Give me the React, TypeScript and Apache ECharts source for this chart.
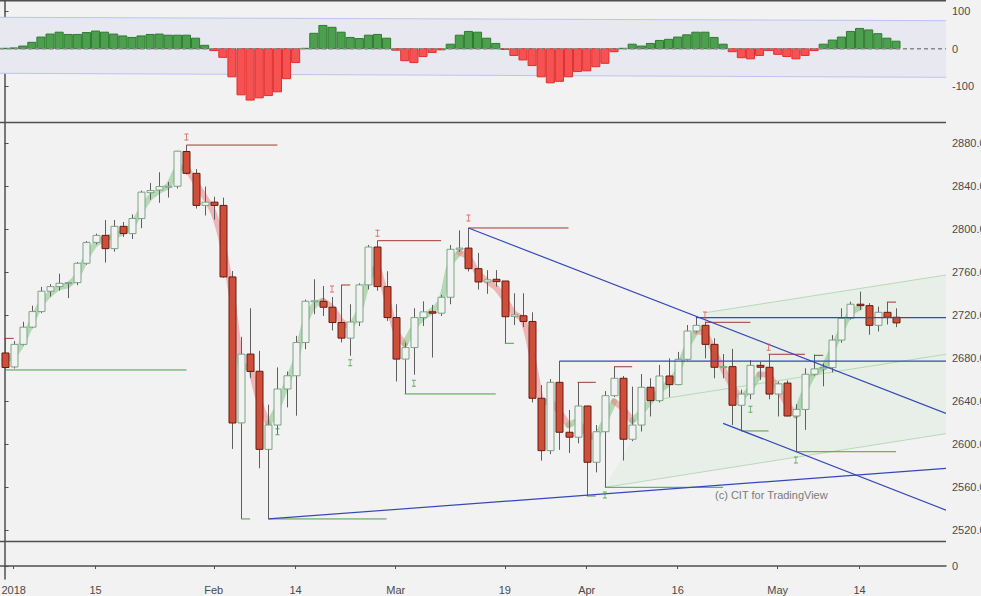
import React, { useEffect, useRef } from "react";
import * as echarts from "echarts";

// ---------- data ----------
const dates = [
  "2017-12-29",
  "2018-01-02","2018-01-03","2018-01-04","2018-01-05","2018-01-08","2018-01-09","2018-01-10","2018-01-11","2018-01-12","2018-01-15","2018-01-16","2018-01-17","2018-01-18","2018-01-19","2018-01-22","2018-01-23","2018-01-24","2018-01-25","2018-01-26","2018-01-29","2018-01-30","2018-01-31",
  "2018-02-01","2018-02-02","2018-02-05","2018-02-06","2018-02-07","2018-02-08","2018-02-09","2018-02-12","2018-02-13","2018-02-14","2018-02-15","2018-02-16","2018-02-19","2018-02-20","2018-02-21","2018-02-22","2018-02-23","2018-02-26","2018-02-27","2018-02-28",
  "2018-03-01","2018-03-02","2018-03-05","2018-03-06","2018-03-07","2018-03-08","2018-03-09","2018-03-12","2018-03-13","2018-03-14","2018-03-15","2018-03-16","2018-03-19","2018-03-20","2018-03-21","2018-03-22","2018-03-23","2018-03-26","2018-03-27","2018-03-28","2018-03-29",
  "2018-04-02","2018-04-03","2018-04-04","2018-04-05","2018-04-06","2018-04-09","2018-04-10","2018-04-11","2018-04-12","2018-04-13","2018-04-16","2018-04-17","2018-04-18","2018-04-19","2018-04-20","2018-04-23","2018-04-24","2018-04-25","2018-04-26","2018-04-27","2018-04-30",
  "2018-05-01","2018-05-02","2018-05-03","2018-05-04","2018-05-07","2018-05-08","2018-05-09","2018-05-10","2018-05-11","2018-05-14","2018-05-15","2018-05-16","2018-05-17","2018-05-18",
];

const opens = [
  2685, 2672, 2693, 2709, 2723.5, 2742.4, 2746.7, 2749.8, 2750.4, 2768.4,
  2787.8, 2794.3, 2782, 2802.7, 2796, 2810, 2834, 2836.5, 2839.7, 2840,
  2872.3, 2852, 2822.2, 2825.2, 2822.2, 2755.7, 2620, 2684, 2668, 2595.4,
  2618, 2651.5, 2663.8, 2694.7, 2733, 2733, 2727.5, 2713.3, 2698.8, 2713.8,
  2748.3, 2783.5, 2746.7, 2717.9, 2679.3, 2690, 2717.9, 2723.3, 2722, 2736.8,
  2781.4, 2782.5, 2763.4, 2751, 2753.5, 2751.9, 2719, 2719.6, 2714.3, 2642.9,
  2594.2, 2657.7, 2611.3, 2606.7, 2635.7, 2583.4, 2611.8, 2645.3, 2661.5, 2604.8,
  2618, 2653.1, 2640.7, 2663.6, 2655.6, 2679.1, 2705.4, 2710.7, 2693, 2671.7,
  2672.3, 2636.4, 2646.8, 2673.5, 2671.7, 2646.8, 2657, 2626.4, 2632.5, 2665.2,
  2670.2, 2671.4, 2697, 2717.2, 2730.3, 2729, 2710.7, 2722.8, 2718.2,
];
const highs = [
  2698.6, 2696, 2714, 2729, 2746.5, 2749, 2758.7, 2751, 2769.6, 2789,
  2796, 2808.6, 2808.6, 2806.8, 2813.8, 2836, 2843, 2853, 2844, 2873,
  2878.3, 2856, 2839.7, 2830.3, 2829.4, 2761.2, 2700, 2726.6, 2687, 2636.9,
  2671.6, 2667.8, 2700.9, 2734.6, 2753.5, 2747.3, 2737, 2748.2, 2730.3, 2749.8,
  2785.4, 2789.4, 2761, 2730.3, 2694.5, 2726.6, 2733, 2729.7, 2739, 2785.4,
  2799, 2801.2, 2778, 2762, 2762, 2751.9, 2740.5, 2740.5, 2722.8, 2655.1,
  2660.7, 2677.5, 2632, 2657.7, 2636, 2618, 2649.6, 2672.2, 2663.6, 2653.7,
  2665.4, 2661.5, 2673.9, 2680, 2686, 2711, 2717.9, 2714, 2698.7, 2684,
  2688.8, 2650.9, 2678.4, 2677, 2683.8, 2658.5, 2659.5, 2637.4, 2670.7, 2683.5,
  2675.3, 2701.6, 2726.5, 2732.7, 2742, 2731.3, 2728, 2732.3, 2726.5,
];
const lows = [
  2669.2, 2670.5, 2692, 2708, 2722, 2737.4, 2743, 2736, 2748, 2767,
  2786, 2769, 2779.2, 2792.9, 2791, 2801, 2827.5, 2824.6, 2829.5, 2838,
  2851, 2819.3, 2812.8, 2809, 2755, 2595.8, 2530.7, 2661.7, 2577.8, 2530.7,
  2609.7, 2634.4, 2626.7, 2688.5, 2721, 2719.4, 2706, 2694.8, 2682.4, 2710,
  2744, 2742.8, 2714.8, 2658.5, 2646.9, 2664.8, 2710, 2680.8, 2719.4, 2730.3,
  2779, 2760.8, 2744, 2740, 2746.7, 2694, 2711, 2709, 2639, 2584.9,
  2591, 2595, 2592, 2601, 2552, 2574, 2560.1, 2644, 2585, 2603,
  2612, 2626, 2639, 2644, 2655, 2678, 2704, 2680, 2661.5, 2661.5,
  2618, 2612.5, 2642, 2660, 2642, 2626, 2626, 2593.2, 2613.5, 2664,
  2654, 2667, 2694.5, 2716, 2725, 2702, 2705, 2711.5, 2709,
];
const closes = [
  2671.5, 2693, 2709, 2723.5, 2742.4, 2746.7, 2749.8, 2750.4, 2768.4, 2787.8,
  2794.3, 2782, 2802.7, 2796, 2810, 2834.5, 2836, 2839.7, 2840, 2872.6,
  2852, 2822.2, 2825.2, 2822.2, 2755.7, 2619.9, 2683.9, 2667.8, 2595.4, 2618,
  2651.5, 2663.8, 2694.7, 2733.1, 2733.5, 2727.5, 2713.3, 2698.8, 2713.8, 2748.3,
  2783.5, 2746.7, 2717.9, 2679.3, 2690, 2717.9, 2723.2, 2722, 2736.8, 2781.4,
  2782.5, 2763.4, 2751, 2753, 2751.3, 2718.7, 2720.5, 2714.3, 2642.9, 2594.2,
  2657.7, 2611.3, 2606.7, 2635.7, 2583.4, 2611.8, 2645.3, 2661.5, 2604.8, 2618,
  2653.1, 2640.7, 2663.6, 2655.6, 2679.1, 2705.4, 2710.7, 2693, 2671.7, 2672.3,
  2636.4, 2646.8, 2673.5, 2671.7, 2646.8, 2656.3, 2626.4, 2632.5, 2665.2, 2670.2,
  2671.4, 2697, 2717.2, 2730.3, 2729, 2710.7, 2722.8, 2718.2, 2712.97,
];

// smoothed trend line (translucent, coloured by direction)
const trendLine = [
  2678, 2683, 2695, 2713.6, 2730.6, 2739.9, 2746, 2748.2, 2756.9, 2773.9,
  2786.3, 2791, 2794, 2797.1, 2803.3, 2817.2, 2829.6, 2835.8, 2840.4, 2855.9,
  2857.5, 2843.5, 2830, 2815, 2785, 2738, 2670, 2674, 2640, 2619,
  2634, 2656, 2677.7, 2711.8, 2728.8, 2733.5, 2727.3, 2714.9, 2708.7, 2724.2,
  2753.6, 2766, 2736.6, 2705.6, 2693.2, 2708.7, 2718, 2724.2, 2733.5, 2767.6,
  2778.4, 2773.8, 2759.8, 2752.1, 2745.9, 2735, 2722, 2716, 2682, 2638,
  2641, 2630, 2618, 2622, 2610, 2606, 2622, 2640, 2633, 2622,
  2630, 2640, 2650, 2657, 2668, 2690, 2705, 2703, 2686, 2670,
  2654, 2643, 2652, 2665, 2664, 2652, 2638, 2627, 2650, 2666,
  2671, 2688, 2706, 2722, 2727,
];

// oscillator histogram
const oscValues = [
  1, 2, 7, 17, 31, 39, 44, 38, 38, 43,
  47, 44, 39, 34, 30, 34, 38, 39, 36, 36,
  36, 28, 9, -5, -23, -75, -123, -137, -131, -125,
  -115, -80, -37, 1, 41, 62, 57, 44, 30, 27,
  36, 38, 28, -4, -32, -37, -21, -10, -3, 12,
  36, 46, 44, 28, 14, -2, -18, -30, -45, -75,
  -91, -87, -75, -61, -59, -48, -39, -8, 1, 12,
  7, 14, 22, 25, 31, 37, 44, 44, 30, 12,
  -8, -24, -27, -18, -5, -15, -21, -27, -18, -5,
  12, 23, 31, 46, 54, 50, 40, 28, 20,
];
const oscBandUpper = [[-0.5, 83.7], [103.5, 74.7]];
const oscBandLower = [[-0.5, -65.6], [103.5, -76.3]];

// axis ticks
const tickDates = ["2018-01-02", "2018-01-15", "2018-02-01", "2018-02-14", "2018-03-01", "2018-03-19", "2018-04-02", "2018-04-16", "2018-05-01", "2018-05-14"];
const tickLabels = ["2018", "15", "Feb", "14", "Mar", "19", "Apr", "16", "May", "14"];
const priceTicks = [2520, 2560, 2600, 2640, 2680, 2720, 2760, 2800, 2840, 2880];
const oscTicks = [100, 0, -100];
const volTicks = [0];

// drawings: [fromIndex, toIndex, price]
const resistanceLines = [
  [0, 1, 2698.6], [20, 30, 2878.3], [37, 38, 2748.2], [41, 48, 2789.4], [51, 62, 2801.2],
  [63, 65, 2657.7], [67, 69, 2672.2], [77, 82, 2713.5], [84, 88, 2683.8], [89, 90, 2682.8], [97, 98, 2732.3],
];
const supportLines = [
  [0, 20, 2669.2], [26, 27, 2530.7], [29, 42, 2530.7], [44, 54, 2646.9], [55, 56, 2694],
  [64, 65, 2552], [66, 79, 2560.1], [81, 84, 2612.5], [87, 98, 2593.2],
];
// [x1, y1, x2, y2]
const blueTrendLines = [
  [29, 2530.7, 103.5, 2577.7],
  [51, 2801.2, 103.5, 2628.9],
  [79, 2619.6, 103.5, 2538.9],
];
const blueLevels = [[61, 103.5, 2677.5], [76, 103.5, 2717.8]];
const channelLower = [[66, 2560.1], [103.5, 2610]];
const channelMiddle = [[71.5, 2641.3], [103.5, 2683.8]];
const channelUpper = [[77, 2722.4], [103.5, 2757.5]];
const pivotHighMarks = [[20, 2885.8], [36, 2744.5], [41, 2796.3], [51, 2810.5], [77, 2720.3], [84, 2690.3]];
const pivotLowMarks = [[30, 2611.8], [38, 2676], [45, 2656.8], [66, 2553], [82, 2632.6], [87, 2585.5]];
const lastPrice = 2712.97;

// ---------- helpers ----------
const FONT = "'Liberation Sans', Arial, sans-serif";
const X_MIN = -0.5;
const X_MAX = 103.5;

function segSeries(name: string, segs: number[][], color: string, width: number, xi: number, yi: number, z: number) {
  return {
    type: "custom",
    name,
    xAxisIndex: xi,
    yAxisIndex: yi,
    z,
    silent: true,
    clip: true,
    data: segs,
    encode: { x: [0, 2], y: [1, 3] },
    renderItem: (_p: any, api: any) => {
      const a = api.coord([api.value(0), api.value(1)]);
      const b = api.coord([api.value(2), api.value(3)]);
      return {
        type: "line",
        shape: { x1: a[0], y1: a[1], x2: b[0], y2: b[1] },
        style: { stroke: color, lineWidth: width, fill: null },
      };
    },
  };
}

function levelSegs(levels: number[][]) {
  return levels.map((l) => [l[0], l[2], l[1], l[2]]);
}

export default function App() {
  const ref = useRef<HTMLDivElement>(null);

  useEffect(() => {
    if (!ref.current) return;
    const chart = echarts.init(ref.current, null, { renderer: "svg" });

    const tickIndex = tickDates.map((d) => dates.indexOf(d));
    const candleData = dates.map((_, i) => [i, opens[i], closes[i], lows[i], highs[i]]);
    const oscData = oscValues.map((v, i) => [i, v]);

    // runs of the trend line by direction
    const runs: number[][] = [];
    for (let k = 1; k < trendLine.length; k++) {
      const up = trendLine[k] >= trendLine[k - 1] ? 1 : 0;
      const last = runs[runs.length - 1];
      if (last && last[2] === up && last[1] === k - 1) last[1] = k;
      else runs.push([k - 1, k, up]);
    }

    const axisLineStyle = { color: "#4f4f4f", width: 1.5 };
    const labelStyle = { color: "#4a4a4a", fontSize: 11, fontFamily: FONT };
    const gridBase = { left: 0, right: 35, outerBoundsMode: "none", containLabel: false };

    const option: any = {
      animation: false,
      backgroundColor: "#f2f2f2",
      grid: [
        { ...gridBase, top: 1, height: 121 },
        { ...gridBase, top: 123, height: 418 },
        { ...gridBase, top: 542, height: 37 },
      ],
      xAxis: [0, 1, 2].map((g) => ({
        type: "value",
        gridIndex: g,
        min: X_MIN,
        max: X_MAX,
        splitLine: { show: false },
        axisLine: { show: g === 2, lineStyle: axisLineStyle },
        axisTick: { show: g === 2, length: 3, lineStyle: { color: "#4f4f4f" }, customValues: tickIndex },
        axisLabel: {
          show: g === 2,
          ...labelStyle,
          margin: 5,
          customValues: tickIndex,
          formatter: (v: number) => tickLabels[tickIndex.indexOf(Math.round(v))] ?? "",
        },
      })),
      yAxis: [
        {
          type: "value", gridIndex: 0, position: "right", min: -195.5, max: 127.2,
          splitLine: { show: false },
          axisLine: { show: true, lineStyle: axisLineStyle },
          axisTick: { show: true, length: 4, lineStyle: { color: "#4f4f4f" }, customValues: oscTicks },
          axisLabel: { ...labelStyle, margin: 6, customValues: oscTicks, formatter: (v: number) => String(v) },
        },
        {
          type: "value", gridIndex: 1, position: "right", min: 2510.2, max: 2898.8,
          splitLine: { show: false },
          axisLine: { show: true, lineStyle: axisLineStyle },
          axisTick: { show: true, length: 4, lineStyle: { color: "#4f4f4f" }, customValues: priceTicks },
          axisLabel: { ...labelStyle, margin: 6, customValues: priceTicks, formatter: (v: number) => v.toFixed(2) },
        },
        {
          type: "value", gridIndex: 2, position: "right", min: -13, max: 24,
          splitLine: { show: false },
          axisLine: { show: true, lineStyle: axisLineStyle },
          axisTick: { show: true, length: 4, lineStyle: { color: "#4f4f4f" }, customValues: volTicks },
          axisLabel: { ...labelStyle, margin: 6, customValues: volTicks, formatter: (v: number) => String(v) },
        },
      ],
      graphic: [
        { type: "line", shape: { x1: 0, y1: 0.75, x2: 946, y2: 0.75 }, style: { stroke: "#4f4f4f", lineWidth: 1.5 }, z: 100 },
        { type: "line", shape: { x1: 0, y1: 122.5, x2: 946, y2: 122.5 }, style: { stroke: "#4f4f4f", lineWidth: 1.5 }, z: 100 },
        { type: "line", shape: { x1: 0, y1: 541.5, x2: 946, y2: 541.5 }, style: { stroke: "#4f4f4f", lineWidth: 1.5 }, z: 100 },
        {
          type: "text", left: 715, top: 489, z: 100,
          style: { text: "(c) CIT for TradingView", fill: "#7a7a7a", fontSize: 11, fontFamily: FONT },
        },
      ],
      series: [
        // oscillator band
        {
          type: "custom", xAxisIndex: 0, yAxisIndex: 0, z: 1, silent: true, clip: true,
          data: [[0]],
          renderItem: (_p: any, api: any) => {
            const pts = [
              api.coord(oscBandUpper[0]), api.coord(oscBandUpper[1]),
              api.coord(oscBandLower[1]), api.coord(oscBandLower[0]),
            ];
            return {
              type: "group",
              children: [
                { type: "polygon", shape: { points: pts }, style: { fill: "#e8e8f1" } },
                { type: "line", shape: { x1: pts[0][0], y1: pts[0][1], x2: pts[1][0], y2: pts[1][1] }, style: { stroke: "#bcc4ee", lineWidth: 1 } },
                { type: "line", shape: { x1: pts[3][0], y1: pts[3][1], x2: pts[2][0], y2: pts[2][1] }, style: { stroke: "#bcc4ee", lineWidth: 1 } },
              ],
            };
          },
        },
        // oscillator histogram
        {
          type: "custom", xAxisIndex: 0, yAxisIndex: 0, z: 2, silent: true, clip: true,
          data: oscData,
          encode: { x: 0, y: 1 },
          renderItem: (_p: any, api: any) => {
            const i = api.value(0);
            const v = api.value(1);
            const a = api.coord([i - 0.5, 0]);
            const b = api.coord([i + 0.5, v]);
            const up = v >= 0;
            return {
              type: "rect",
              shape: { x: a[0] + 0.5, y: Math.min(a[1], b[1]), width: b[0] - a[0] - 1, height: Math.abs(b[1] - a[1]) },
              style: { fill: up ? "#4c9f4c" : "#f75252", stroke: up ? "#2f7a32" : "#e02e2e", lineWidth: 1 },
            };
          },
        },
        // zero line
        {
          type: "line", xAxisIndex: 0, yAxisIndex: 0, z: 3, silent: true, symbol: "none",
          data: [[X_MIN, 0], [X_MAX, 0]],
          lineStyle: { color: "#8a8a8a", width: 1.5, type: [4, 3] },
        },
        // channel fill
        {
          type: "custom", xAxisIndex: 1, yAxisIndex: 1, z: 1, silent: true, clip: true,
          data: [[0]],
          renderItem: (_p: any, api: any) => ({
            type: "polygon",
            shape: {
              points: [
                api.coord(channelLower[0]), api.coord(channelUpper[0]), api.coord(channelUpper[1]),
                api.coord(channelLower[1]),
              ],
            },
            style: { fill: "rgba(120,190,120,0.08)" },
          }),
        },
        segSeries("channel", [
          [channelLower[0][0], channelLower[0][1], channelLower[1][0], channelLower[1][1]],
          [channelMiddle[0][0], channelMiddle[0][1], channelMiddle[1][0], channelMiddle[1][1]],
          [channelUpper[0][0], channelUpper[0][1], channelUpper[1][0], channelUpper[1][1]],
        ], "rgba(140,200,140,0.55)", 1, 1, 1, 2),
        // trend line
        {
          type: "custom", xAxisIndex: 1, yAxisIndex: 1, z: 2, silent: true, clip: true,
          data: runs,
          encode: { x: [0, 1] },
          renderItem: (_p: any, api: any) => {
            const s = api.value(0);
            const e = api.value(1);
            const up = api.value(2) === 1;
            const pts: number[][] = [];
            for (let k = s; k <= e; k++) pts.push(api.coord([k, trendLine[k]]));
            return {
              type: "polyline",
              shape: { points: pts, smooth: 0.3 },
              style: {
                stroke: up ? "rgba(120,190,120,0.5)" : "rgba(235,120,120,0.5)",
                lineWidth: 6, fill: null, lineCap: "round", lineJoin: "round",
              },
            };
          },
        },
        // candles
        {
          type: "custom", xAxisIndex: 1, yAxisIndex: 1, z: 3, silent: true, clip: true,
          data: candleData,
          encode: { x: 0, y: [1, 2, 3, 4] },
          renderItem: (_p: any, api: any) => {
            const i = api.value(0);
            const o = api.value(1);
            const c = api.value(2);
            const l = api.value(3);
            const h = api.value(4);
            const pO = api.coord([i, o]);
            const pC = api.coord([i, c]);
            const pL = api.coord([i, l]);
            const pH = api.coord([i, h]);
            const x = Math.round(pO[0]) + 0.5;
            const up = c >= o;
            const top = Math.min(pO[1], pC[1]);
            const bot = Math.max(pO[1], pC[1]);
            const hgt = Math.max(bot - top, 1);
            const w = 7;
            return {
              type: "group",
              children: [
                { type: "line", shape: { x1: x, y1: pH[1], x2: x, y2: pL[1] }, style: { stroke: "#5e5e5e", lineWidth: 1 } },
                {
                  type: "rect",
                  shape: { x: x - w / 2, y: top, width: w, height: hgt },
                  style: { fill: up ? "#f2f2f2" : "#cf4e39", stroke: up ? "#7aa486" : "#651d13", lineWidth: 1 },
                },
              ],
            };
          },
        },
        segSeries("resistance", levelSegs(resistanceLines), "#a33a32", 1, 1, 1, 4),
        segSeries("support", levelSegs(supportLines), "#4f9a4f", 1, 1, 1, 4),
        segSeries("trendlines", blueTrendLines, "#3448b8", 1.2, 1, 1, 5),
        segSeries("levels", levelSegs(blueLevels), "#3448b8", 1.2, 1, 1, 5),
        {
          type: "scatter", xAxisIndex: 1, yAxisIndex: 1, z: 6, silent: true,
          symbol: "path://M0 0H5V1H3V6H5V7H0V6H2V1H0Z", symbolSize: [4, 7],
          itemStyle: { color: "#e04a40" },
          data: pivotHighMarks,
        },
        {
          type: "scatter", xAxisIndex: 1, yAxisIndex: 1, z: 6, silent: true,
          symbol: "path://M0 0H5V1H3V6H5V7H0V6H2V1H0Z", symbolSize: [4, 7],
          itemStyle: { color: "#3f9a3f" },
          data: pivotLowMarks,
        },
        // last price label
        {
          type: "line", xAxisIndex: 1, yAxisIndex: 1, z: 7, silent: true, symbol: "none",
          data: [[98, lastPrice]],
          lineStyle: { opacity: 0 },
          markLine: {
            silent: true, symbol: "none", animation: false,
            lineStyle: { opacity: 0 },
            data: [{ yAxis: lastPrice }],
            label: {
              show: true, position: "end", distance: 0,
              formatter: () => lastPrice.toFixed(2),
              backgroundColor: "#d2503c", color: "#ffffff", fontWeight: "bold",
              fontSize: 12, fontFamily: FONT, padding: [1, 4, 0, 3],
            },
          },
        },
      ],
    };

    chart.setOption(option);
    return () => chart.dispose();
  }, []);

  return (
    <div
      ref={ref}
      style={{ position: "fixed", left: 0, top: 0, width: 981, height: 596, overflow: "hidden" }}
    />
  );
}
